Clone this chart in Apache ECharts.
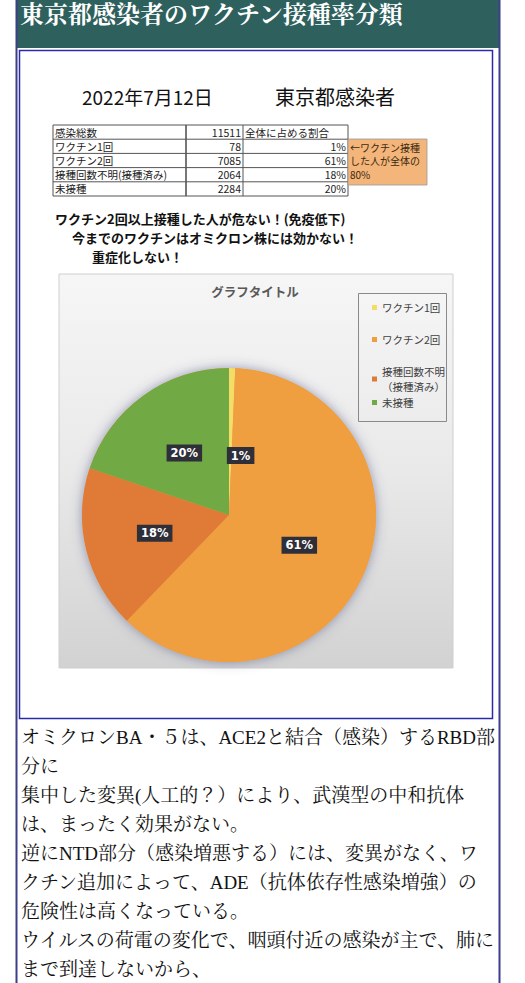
<!DOCTYPE html>
<html><head><meta charset="utf-8">
<script src="https://cdn.jsdelivr.net/npm/echarts@6/dist/echarts.min.js"></script>
<style>html,body{margin:0;padding:0;background:#fff}#c{width:525px;height:983px}</style>
</head><body><div id="c"></div>
<script>
// ---------- data ----------
const pageTitle = '東京都感染者のワクチン接種率分類';
const imageDate = '2022年7月12日';
const imageSubject = '東京都感染者';
const totalLabel = '感染総数';
const totalCount = 11511;
const shareHeader = '全体に占める割合';
const categories = ['ワクチン1回', 'ワクチン2回', '接種回数不明(接種済み)', '未接種'];
const legendLabels = ['ワクチン1回', 'ワクチン2回', '接種回数不明\n（接種済み）', '未接種'];
const counts = [78, 7085, 2064, 2284];
const percentLabels = ['1%', '61%', '18%', '20%'];
const noteLines = ['←ワクチン接種', 'した人が全体の', '80%'];
const warningLines = ['ワクチン2回以上接種した人が危ない！(免疫低下)', '今までのワクチンはオミクロン株には効かない！', '重症化しない！'];
const chartTitle = 'グラフタイトル';
const bodyLines = [
  'オミクロンBA・５は、ACE2と結合（感染）するRBD部',
  '分に',
  '集中した変異(人工的？）により、武漢型の中和抗体',
  'は、まったく効果がない。',
  '逆にNTD部分（感染増悪する）には、変異がなく、ワ',
  'クチン追加によって、ADE（抗体依存性感染増強）の',
  '危険性は高くなっている。',
  'ウイルスの荷電の変化で、咽頭付近の感染が主で、肺に',
  'まで到達しないから、'
];
const sliceColors = ['#F4DD66', '#EF9E40', '#E07B37', '#71A944'];

// ---------- layout ----------
const SANS = '"Noto Sans CJK JP", "Noto Sans", sans-serif';
const SERIF = '"Liberation Serif", "Noto Serif CJK JP", "Noto Sans CJK JP", serif';
const g = [];
// header
g.push({type:'rect', shape:{x:16, y:0, width:484, height:48}, style:{fill:'#2e605e'}});
g.push({type:'text', x:20, y:15, style:{text:pageTitle, fill:'#fff', font:'bold 24px ' + SERIF, textVerticalAlign:'middle'}});
// outer frame lines
g.push({type:'line', shape:{x1:16.5, y1:0, x2:16.5, y2:983}, style:{stroke:'#3b3f8a', lineWidth:2}});
g.push({type:'line', shape:{x1:499.5, y1:0, x2:499.5, y2:983}, style:{stroke:'#3b3f8a', lineWidth:2}});
// inner frame
g.push({type:'rect', shape:{x:19.5, y:50.5, width:473, height:668}, style:{fill:'#fff', stroke:'#2b2ba6', lineWidth:1.5}});
// image title
g.push({type:'text', x:82, y:96, style:{text:imageDate, fill:'#111', font:'19px ' + SANS, textVerticalAlign:'middle'}});
g.push({type:'text', x:275, y:96, style:{text:imageSubject, fill:'#111', font:'20px ' + SANS, textVerticalAlign:'middle'}});
// table
const cols = [53, 186, 243, 348];
const tTop = 125, rowH = 14.2;
const nRows = categories.length + 1;
for (let r = 0; r <= nRows; r++) {
  const y = tTop + r * rowH;
  g.push({type:'line', shape:{x1:cols[0], y1:y, x2:cols[3], y2:y}, style:{stroke:'#555', lineWidth:1}});
}
cols.forEach((x, i) => {
  g.push({type:'line', shape:{x1:x, y1:tTop, x2:x, y2:tTop + nRows * rowH}, style:{stroke:'#555', lineWidth:i === 1 ? 1.6 : 1}});
});
const cellFont = '10.5px ' + SANS;
function cell(text, x, row, align) {
  g.push({type:'text', x:x, y:tTop + rowH * (row + 0.5), style:{text:String(text), fill:'#222', font:cellFont, lineHeight:12, textAlign:align, textVerticalAlign:'middle'}});
}
cell(totalLabel, cols[0] + 2, 0, 'left');
cell(totalCount, cols[2] - 2, 0, 'right');
cell(shareHeader, cols[2] + 2, 0, 'left');
categories.forEach((c, i) => {
  cell(c, cols[0] + 2, i + 1, 'left');
  cell(counts[i], cols[2] - 2, i + 1, 'right');
  cell(percentLabels[i], cols[3] - 2, i + 1, 'right');
});
// orange note box
g.push({type:'rect', shape:{x:348, y:139, width:79, height:46}, style:{fill:'#F4B57A', stroke:'#999', lineWidth:0.8}});
noteLines.forEach((t, i) => {
  g.push({type:'text', x:350, y:147 + i * 13.5, style:{text:t, fill:'#3a2a12', font:'10px ' + SANS, lineHeight:12, textVerticalAlign:'middle'}});
});
// warnings
const wx = [55, 72, 92], wy = [218, 237, 256];
warningLines.forEach((t, i) => {
  g.push({type:'text', x:wx[i], y:wy[i], style:{text:t, fill:'#111', font:'bold 13px ' + SANS, lineHeight:15, textVerticalAlign:'middle'}});
});
// chart area
g.push({type:'rect', shape:{x:59, y:274, width:394, height:394}, style:{
  fill:{type:'linear', x:0, y:0, x2:0, y2:1, colorStops:[{offset:0, color:'#f6f6f6'}, {offset:0.5, color:'#e9e9e9'}, {offset:1, color:'#d2d2d2'}]},
  stroke:'#cfcfcf', lineWidth:1}});
g.push({type:'text', x:255, y:291, style:{text:chartTitle, fill:'#595959', font:'bold 12.5px ' + SANS, textAlign:'center', textVerticalAlign:'middle'}});
g.push({type:'rect', shape:{x:358.5, y:293.5, width:88, height:128}, style:{fill:'none', stroke:'#8a8a8a', lineWidth:1}});
// body text
g.push({type:'text', x:21, y:722.5, style:{text:bodyLines.join('\n'), fill:'#111', font:'19px ' + SERIF, lineHeight:29, textVerticalAlign:'top'}});

const legendFmt = name => legendLabels[categories.indexOf(name)];
const legendBase = {orient:'vertical', left:367, icon:'rect', itemWidth:5, itemHeight:5, formatter:legendFmt,
  textStyle:{fontSize:10.5, color:'#404040', lineHeight:15, fontFamily:SANS}, selectedMode:false};
const total = counts.reduce((a, b) => a + b, 0);

const option = {
  animation:false,
  graphic:{elements:g},
  legend:[
    Object.assign({}, legendBase, {data:categories.slice(0, 2), top:295, itemGap:17}),
    Object.assign({}, legendBase, {data:categories.slice(2), top:359, itemGap:1})
  ],
  series:[
    {type:'pie', silent:true, center:[229, 515], radius:147, z:1, label:{show:false}, labelLine:{show:false},
     itemStyle:{color:'#e9a050', shadowBlur:12, shadowColor:'rgba(70,80,130,0.55)'},
     data:[{name:'_shadow', value:total}], legendHoverLink:false},
    {type:'pie', center:[229, 515], radius:147, startAngle:90, clockwise:true, z:2,
     itemStyle:{borderWidth:0},
     label:{show:true, position:'inside', color:'#fff', fontWeight:'bold', fontSize:11.5, fontFamily:'"DejaVu Sans", sans-serif',
       backgroundColor:'#2f2f3a', padding:[3, 4, 2, 4], formatter:p => percentLabels[p.dataIndex]},
     labelLine:{show:false},
     data:counts.map((v, i) => ({name:categories[i], value:v, itemStyle:{color:sliceColors[i]},
       label: i === 0 ? {offset:[10, 17]} : undefined}))}
  ]
};
const chart = echarts.init(document.getElementById('c'), null, {renderer:'svg'});
chart.setOption(option);
</script></body></html>
